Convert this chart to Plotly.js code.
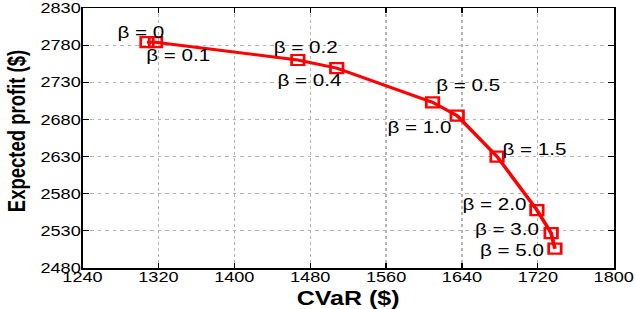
<!DOCTYPE html>
<html>
<head>
<meta charset="utf-8">
<script src="https://cdn.plot.ly/plotly-3.0.1.min.js"></script>
<style>
  html, body { margin: 0; padding: 0; background: #fff; }
  #wrap { width: 636px; height: 309px; overflow: hidden; }
  #chart { width: 508.8px; height: 309px; transform: scaleX(1.25); transform-origin: 0 0; }
</style>
</head>
<body>
<div id="wrap"><div id="chart"></div></div>
<script>
// Data
const betaLabels = ["β = 0", "β = 0.1", "β = 0.2", "β = 0.4", "β = 0.5", "β = 1.0", "β = 1.5", "β = 2.0", "β = 3.0", "β = 5.0"];
const cvar = [1308, 1317, 1467, 1508, 1609, 1635, 1677, 1719, 1734, 1738];
const expectedProfit = [2784, 2784, 2760, 2749, 2703, 2685, 2630, 2558, 2527, 2506];
const xTicks = [1240, 1320, 1400, 1480, 1560, 1640, 1720, 1800];
const yTicks = [2480, 2530, 2580, 2630, 2680, 2730, 2780, 2830];

// Label placement offsets (pixels, styling only)
const labelShiftX = [-5, 18, 6, -22, 28, -30, 30, -34, -35, -34];
const labelShiftY = [10, -13, 13, -12, 17, -11, 8, 6, 4, -1];

const font = "Liberation Sans, Arial, Helvetica, sans-serif";

const trace = {
  x: cvar,
  y: expectedProfit,
  type: "scatter",
  mode: "lines+markers",
  line: { color: "#ff0000", width: 3 },
  marker: { symbol: "square-open", size: 10, color: "#ff0000", line: { color: "#ff0000", width: 2.2 } },
  hoverinfo: "skip",
  cliponaxis: false
};

const annotations = betaLabels.map((t, i) => ({
  x: cvar[i], y: expectedProfit[i], xref: "x", yref: "y",
  text: t, showarrow: false,
  xshift: labelShiftX[i], yshift: labelShiftY[i],
  font: { family: font, size: 16.5, color: "#000" }
}));

const axisCommon = {
  showline: true, linecolor: "#000", linewidth: 1.5, mirror: "ticks",
  ticks: "inside", ticklen: 5, tickwidth: 1, tickcolor: "#000",
  showgrid: true, gridcolor: "#b4b4b4", gridwidth: 1, griddash: "dot",
  zeroline: false,
  tickfont: { family: font, size: 14.5, color: "#000" }
};

const layout = {
  width: 508.8, height: 309,
  margin: { l: 65.6, r: 17.6, t: 8, b: 41 },
  paper_bgcolor: "#fff", plot_bgcolor: "#fff",
  showlegend: false,
  xaxis: Object.assign({}, axisCommon, {
    range: [1240, 1800], tickmode: "array", tickvals: xTicks, ticktext: xTicks.map(String),
    ticklabelstandoff: 0,
    title: { text: "<b>CVaR ($)</b>", font: { family: font, size: 20, color: "#000" }, standoff: 1 }
  }),
  yaxis: Object.assign({}, axisCommon, {
    range: [2480, 2830], tickmode: "array", tickvals: yTicks, ticktext: yTicks.map(String),
    ticklabelstandoff: 0,
    title: { text: "<b>Expected profit ($)</b>", font: { family: font, size: 18.5, color: "#000" }, standoff: 4 }
  }),
  annotations: annotations
};

Plotly.newPlot("chart", [trace], layout, { staticPlot: true, displayModeBar: false }).then(gd => {
  // nudge tick labels closer to the axes, as in the reference
  gd.querySelectorAll(".xaxislayer-above .xtick text").forEach(el => {
    el.setAttribute("transform", (el.getAttribute("transform") || "") + " translate(0,-5)");
  });
  gd.querySelectorAll(".yaxislayer-above .ytick text").forEach(el => {
    el.setAttribute("transform", (el.getAttribute("transform") || "") + " translate(3,0)");
  });
  // the reference's y title sits a little above the plot's middle
  const yt = gd.querySelector(".g-ytitle");
  if (yt) yt.setAttribute("transform", "translate(0,-7)");
});
</script>
</body>
</html>
